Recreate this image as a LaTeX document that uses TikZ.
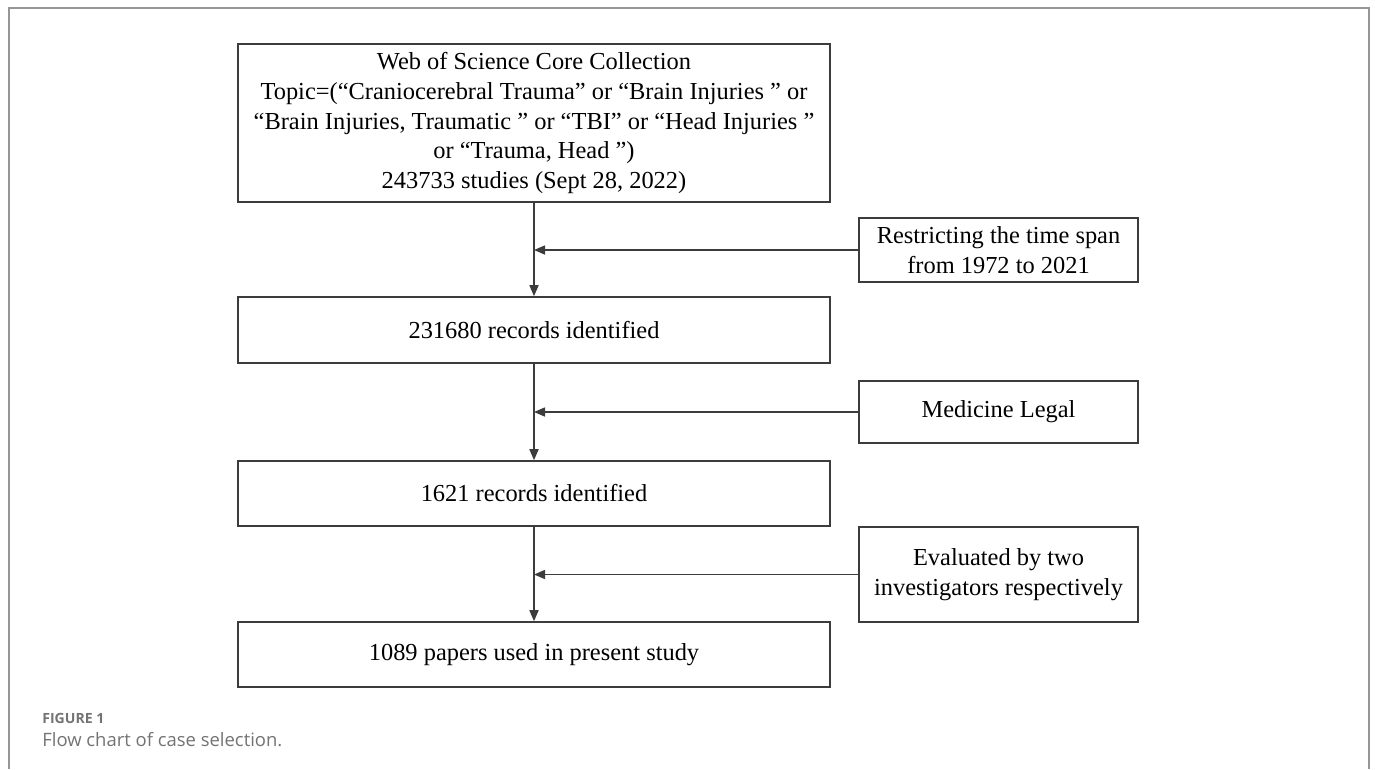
\documentclass[tikz,border=0pt]{standalone}
\usepackage{fontspec}
\setmainfont{Liberation Serif}
\setsansfont{Open Sans}
\usetikzlibrary{arrows.meta,positioning}
\definecolor{lineG}{RGB}{60,60,60}
\definecolor{frameG}{RGB}{150,150,150}
\definecolor{capG}{RGB}{115,115,115}

\begin{document}
\begin{tikzpicture}[
  x=0.02cm, y=-0.02cm, >={Triangle[length=2.2mm,width=1.8mm]},
  box/.style={rectangle, draw=lineG, line width=0.9pt, align=center,
              inner sep=2pt, font=\fontsize{13.9}{17}\selectfont},
  mainbox/.style={box, minimum width=11.84cm},
  sidebox/.style={box, minimum width=5.58cm},
  flow/.style={->, draw=lineG, line width=0.9pt},
  captxt/.style={anchor=base west, text=capG, inner sep=0pt}]

  \useasboundingbox (0,0) rectangle (1375,769);
  \draw[frameG, line width=1.2pt] (9,769) -- (9,8) -- (1369,8) -- (1369,769);

  % main column
  \node[mainbox, minimum height=3.16cm] (wos) at (534,123)
    {Web of Science Core Collection\\
     Topic=(“Craniocerebral Trauma” or “Brain Injuries ” or\\
     “Brain Injuries, Traumatic ” or “TBI” or “Head Injuries ”\\
     or “Trauma, Head ”)\\
     243733 studies (Sept 28, 2022)};
  \node[mainbox, minimum height=1.32cm] (rec1) at (534,330) {231680 records identified};
  \node[mainbox, minimum height=1.30cm] (rec2) at (534,493.5) {1621 records identified};
  \node[mainbox, minimum height=1.30cm] (pap) at (534,654.5) {1089 papers used in present study};

  % exclusion steps
  \node[sidebox, minimum height=1.28cm] (span) at (998.5,250)
    {Restricting the time span\\ from 1972 to 2021};
  \node[sidebox, minimum height=1.24cm] (legal) at (998.5,412) {Medicine Legal};
  \node[sidebox, minimum height=1.90cm] (eval) at (998.5,574.5)
    {Evaluated by two\\ investigators respectively};

  \draw[flow] (wos) -- (rec1);
  \draw[flow] (rec1) -- (rec2);
  \draw[flow] (rec2) -- (pap);
  \draw[flow] (span.west) -- (span.west -| wos.south);
  \draw[flow] (legal.west) -- (legal.west -| rec1.south);
  \draw[flow] (eval.west) -- (eval.west -| rec2.south);

  \node[captxt, font=\sffamily\bfseries\fontsize{8}{10}\selectfont] (fig) at (42,723) {FIGURE 1};
  \node[captxt, font=\sffamily\fontsize{10.5}{13}\selectfont] (title) at (42,746) {Flow chart of case selection.};
\end{tikzpicture}
\end{document}
